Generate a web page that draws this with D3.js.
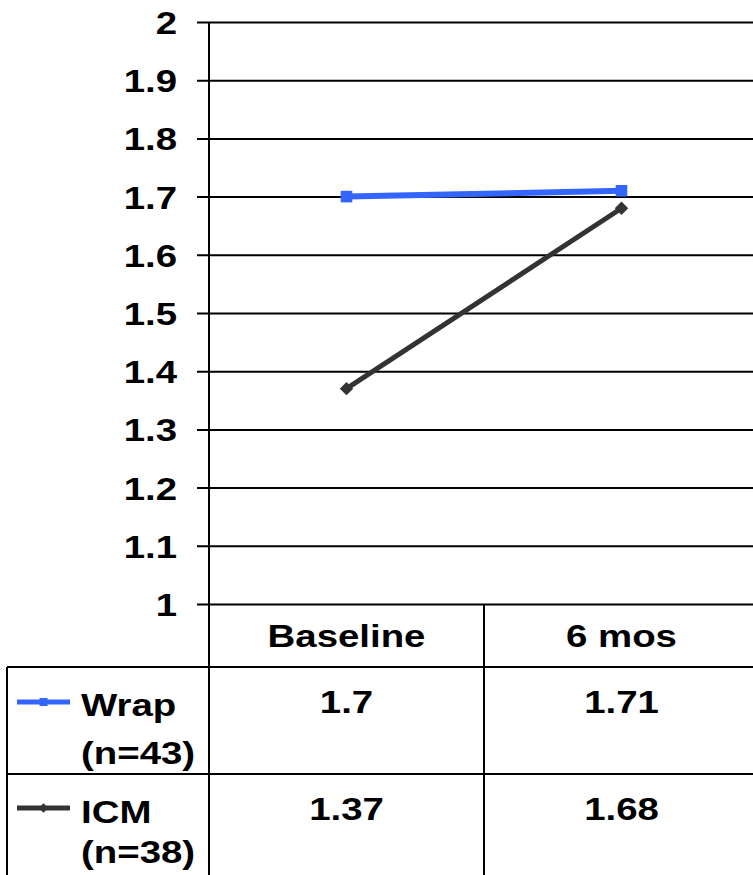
<!DOCTYPE html>
<html>
<head>
<meta charset="utf-8">
<script src="https://cdn.jsdelivr.net/npm/d3@7"></script>
<style>
  html, body { margin: 0; padding: 0; background: #fff; }
  svg { display: block; }
  text { font-family: "Liberation Sans", Arial, sans-serif; font-weight: bold; fill: #000; }
</style>
</head>
<body>
<svg id="chart" width="753" height="875"></svg>
<script>
// Time points, series and axis ticks
const categories = ["Baseline", "6 mos"];
const seriesNames = ["Wrap", "ICM"];
const seriesNotes = ["(n=43)", "(n=38)"];
const wrapValues = [1.70, 1.71];
const icmValues = [1.37, 1.68];
const seriesColors = ["#3366ff", "#333333"];
const yTicks = [1, 1.1, 1.2, 1.3, 1.4, 1.5, 1.6, 1.7, 1.8, 1.9, 2];

const series = [
  { name: seriesNames[0], note: seriesNotes[0], values: wrapValues, color: seriesColors[0], rotate: 0, width: 6 },
  { name: seriesNames[1], note: seriesNotes[1], values: icmValues, color: seriesColors[1], rotate: 45, width: 5 }
];

const W = 753, H = 875;
const plotLeft = 209, plotRight = 759, plotTop = 22, plotBottom = 604;
const tableLeft = 7;
const headerBottom = 667;
const rowBottoms = [774, H];
const FONT = 32, STRETCH = 1.2;

const svg = d3.select("#chart");

const x = d3.scaleBand().domain(categories).range([plotLeft, plotRight]).padding(0);
const y = d3.scaleLinear().domain([1, 2]).range([plotBottom, plotTop]);
const cx = c => x(c) + x.bandwidth() / 2;

// Places a slightly wide bold label at (px, py)
function label(g, px, py, str, anchor) {
  return g.append("text")
    .attr("transform", `translate(${px},${py}) scale(${STRETCH},1)`)
    .attr("text-anchor", anchor || "start")
    .attr("font-size", FONT)
    .text(str);
}

// Horizontal gridlines with tick stubs, via the axis generator
const yAxis = d3.axisLeft(y)
  .tickValues(yTicks)
  .tickFormat(d3.format("~g"))
  .tickSizeInner(-(W - plotLeft))
  .tickSizeOuter(0)
  .tickPadding(0);

const gAxis = svg.append("g").attr("transform", `translate(${plotLeft},0)`).call(yAxis);
gAxis.select(".domain").remove();
gAxis.selectAll(".tick line")
  .attr("x1", -12)
  .attr("x2", W - plotLeft)
  .attr("stroke", "#000")
  .attr("stroke-width", 2);
gAxis.selectAll(".tick text")
  .attr("x", 0)
  .attr("dy", null)
  .attr("transform", `translate(-32,11.5) scale(${STRETCH},1)`)
  .attr("font-size", FONT)
  .attr("font-family", "Liberation Sans, Arial, sans-serif")
  .attr("font-weight", "bold")
  .attr("fill", "#000");

// Table grid
const grid = svg.append("g").attr("stroke", "#000").attr("stroke-width", 2);
grid.append("line").attr("x1", plotLeft).attr("x2", plotLeft).attr("y1", plotTop).attr("y2", H);
grid.append("line").attr("x1", x(categories[1])).attr("x2", x(categories[1])).attr("y1", plotBottom).attr("y2", H);
grid.append("line").attr("x1", tableLeft).attr("x2", tableLeft).attr("y1", headerBottom).attr("y2", H);
grid.append("line").attr("x1", tableLeft).attr("x2", W).attr("y1", headerBottom).attr("y2", headerBottom);
grid.append("line").attr("x1", tableLeft).attr("x2", W).attr("y1", rowBottoms[0]).attr("y2", rowBottoms[0]);

// Header row with time points
const gHead = svg.append("g");
categories.forEach(c => label(gHead, cx(c), 647, c, "middle"));

// Lines and markers
const line = d3.line()
  .x((d, i) => cx(categories[i]))
  .y(d => y(d));

series.forEach(s => {
  svg.append("path")
    .datum(s.values)
    .attr("d", line)
    .attr("fill", "none")
    .attr("stroke", s.color)
    .attr("stroke-width", s.width);
  svg.append("g").selectAll("path")
    .data(s.values)
    .join("path")
    .attr("transform", (d, i) => `translate(${cx(categories[i])},${y(d)}) rotate(${s.rotate})`)
    .attr("d", d3.symbol().type(d3.symbolSquare).size(s.rotate ? 90 : 135))
    .attr("fill", s.color);
});

// Data table rows: legend key, series name, values
const rowTops = [headerBottom, rowBottoms[0]];
series.forEach((s, r) => {
  const t = rowTops[r];
  const keyY = t + (r === 0 ? 35 : 34);
  const g = svg.append("g");
  g.append("line")
    .attr("x1", 17).attr("x2", 70)
    .attr("y1", keyY).attr("y2", keyY)
    .attr("stroke", s.color)
    .attr("stroke-width", 5);
  g.append("path")
    .attr("transform", `translate(43.5,${keyY}) rotate(${s.rotate})`)
    .attr("d", d3.symbol().type(d3.symbolSquare).size(s.rotate ? 45 : 64))
    .attr("fill", s.color);
  label(g, 81, t + 49, s.name);
  label(g, 81, t + 97 - (r === 1 ? 8 : 0), s.note);
  s.values.forEach((v, i) => label(g, cx(categories[i]), t + 46, d3.format("~g")(v), "middle"));
});
</script>
</body>
</html>
